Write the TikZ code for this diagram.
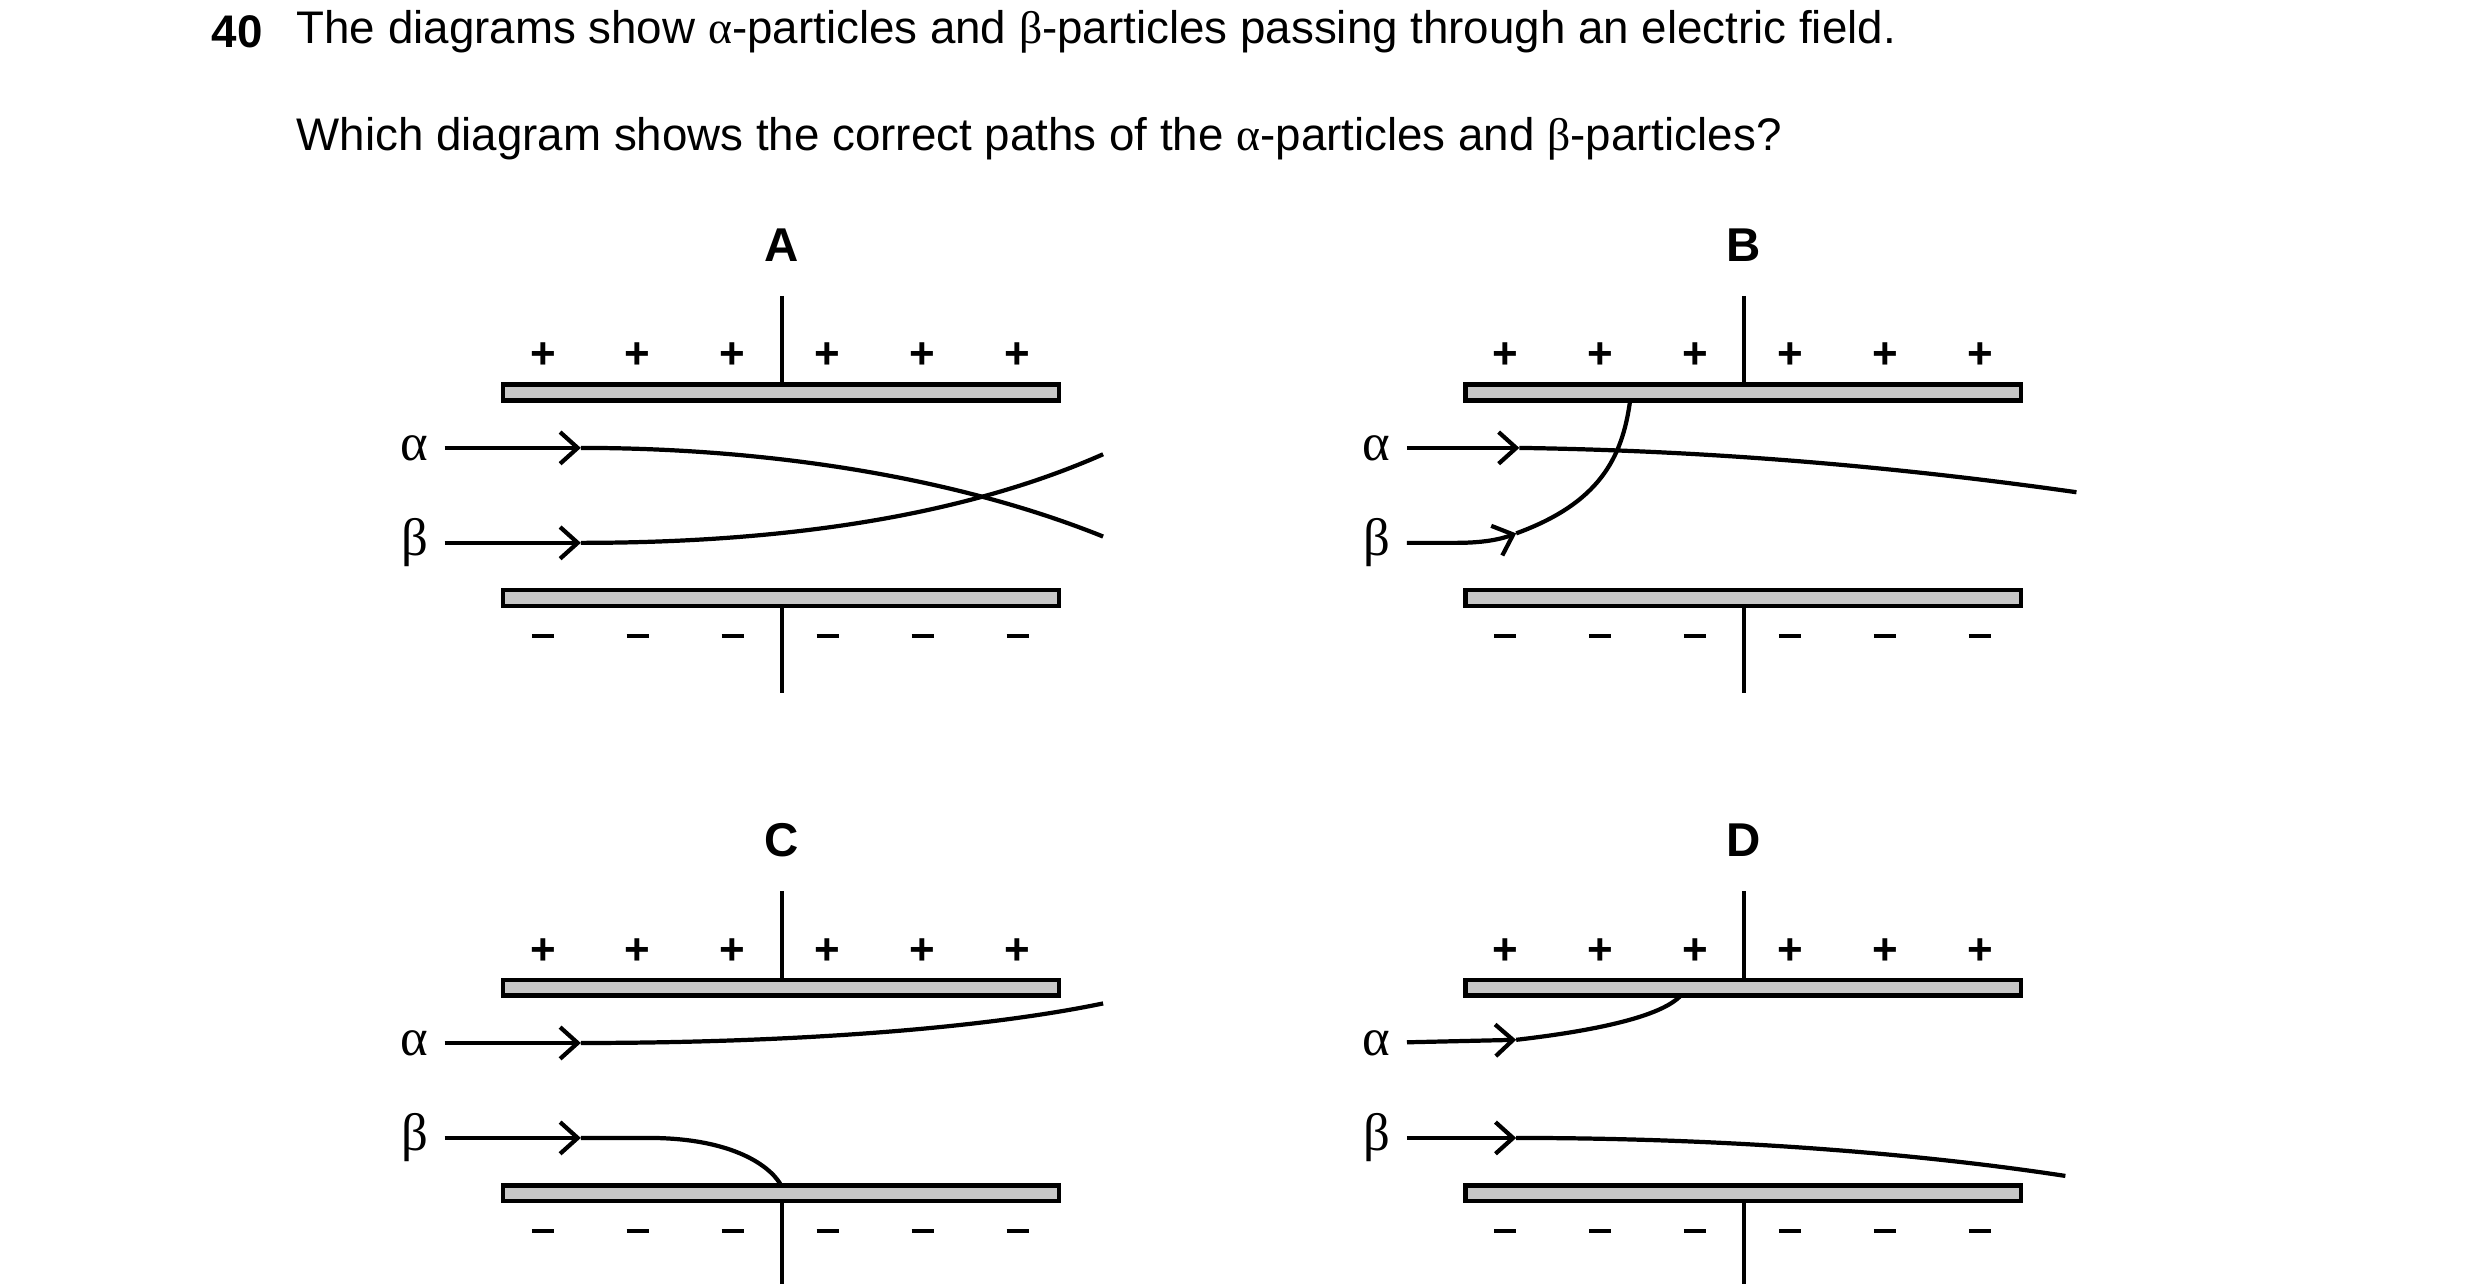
\documentclass[tikz,border=0pt]{standalone}
\usepackage{fontspec}
\setmainfont{Liberation Sans}
\newfontfamily\grk{Liberation Serif}
\usetikzlibrary{arrows.meta}
\tikzset{
  plate/.style={draw, line width=1.2pt, fill=black!22},
  wire/.style={line width=1.2pt},
  path/.style={line width=1.2pt},
  arr/.style={line width=1.2pt, -{Straight Barb[length=5pt,width=9pt,line width=1.2pt]}},
  sgn/.style={font=\fontsize{12.5}{14}\selectfont\bfseries},
  lbl/.style={font=\fontsize{13.5}{15}\selectfont\bfseries},
  part/.style={font=\fontsize{15}{17}\selectfont\grk, inner sep=4.5pt}
}
% one pair of plates, #1 = x shift, #2 = y shift
\newcommand{\pplates}[3]{%
  \begin{scope}[shift={(#1,#2)}]
    \node[lbl] (L#3) at (494,155) {#3};
    \draw[wire] (494,187) -- (494,243);
    \draw[plate] (318,243) rectangle (669,253);
    \draw[plate] (318,373) rectangle (669,383);
    \draw[wire] (494,383) -- (494,438);
    \foreach \x in {343,403,463,523,583,643} {
      \node[sgn] at (\x,225) {+};
      \draw[wire] (\x-7,402) -- (\x+7,402);
    }
  \end{scope}}
\begin{document}
\begin{tikzpicture}[x=0.01582cm,y=-0.01582cm]
\useasboundingbox (0,0) rectangle (1567,811);
\node[font=\fontsize{13}{15}\selectfont\bfseries, anchor=west] (num) at (126,20) {40};
\node[font=\fontsize{13}{15}\selectfont, anchor=west, inner sep=0pt] (q1) at (187,20)
  {The diagrams show {\grk α}-particles and {\grk β}-particles passing through an electric field.};
\node[font=\fontsize{13}{15}\selectfont, anchor=west, inner sep=0pt] (q2) at (187,88)
  {Which diagram shows the correct paths of the {\grk α}-particles and {\grk β}-particles?};

\pplates{0}{0}{A}
\pplates{608}{0}{B}
\pplates{0}{376}{C}
\pplates{608}{376}{D}

%A
\node[part, anchor=east] (aA) at (281,283) {α};
\node[part, anchor=east] (bA) at (281,343) {β};
\coordinate (aAh) at (367,283);
\coordinate (bAh) at (367,343);
\draw[arr] (aA) -- (aAh);
\draw[arr] (bA) -- (bAh);
\draw[path] (aAh) .. controls (480,283) and (600,300) .. (697,339);
\draw[path] (bAh) .. controls (480,343) and (600,330) .. (697,287);

%B
\node[part, anchor=east] (aB) at (889,283) {α};
\node[part, anchor=east] (bB) at (889,343) {β};
\coordinate (aBh) at (960,283);
\coordinate (bBh) at (958,337);
\draw[arr] (aB) -- (aBh);
\draw[arr] (bB) -- (920,343) .. controls (940,343) and (950,340) .. (bBh);
\draw[path] (aBh) .. controls (1100,285) and (1220,298) .. (1312,311);
\draw[path] (bBh) .. controls (1010,318) and (1025,290) .. (1030,253);

%C
\node[part, anchor=east] (aC) at (281,659) {α};
\node[part, anchor=east] (bC) at (281,719) {β};
\coordinate (aCh) at (367,659);
\coordinate (bCh) at (367,719);
\draw[arr] (aC) -- (aCh);
\draw[arr] (bC) -- (bCh);
\draw[path] (aCh) .. controls (500,659) and (620,650) .. (697,634);
\draw[path] (bCh) -- (410,719) .. controls (460,719) and (485,735) .. (493,748);

%D
\node[part, anchor=east] (aD) at (889,659) {α};
\node[part, anchor=east] (bD) at (889,719) {β};
\coordinate (aDh) at (958,657);
\coordinate (bDh) at (958,719);
\draw[arr] (aD) -- (aDh);
\draw[arr] (bD) -- (bDh);
\draw[path] (aDh) .. controls (1010,651) and (1050,642) .. (1062,629);
\draw[path] (bDh) .. controls (1100,719) and (1220,730) .. (1305,743);
\end{tikzpicture}
\end{document}
